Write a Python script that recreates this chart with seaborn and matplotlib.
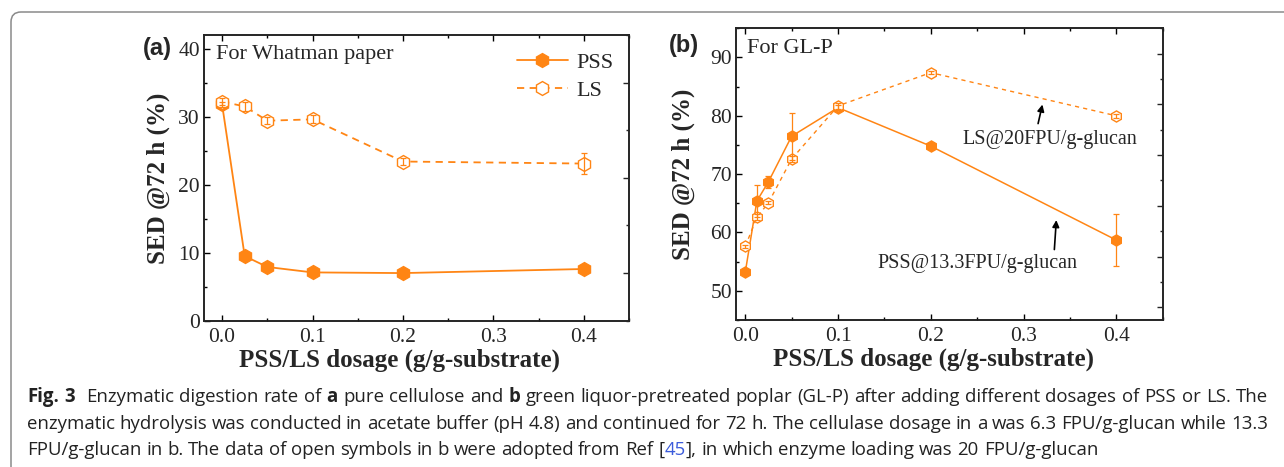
import matplotlib
matplotlib.use("Agg")
import numpy as np
import pandas as pd
import matplotlib.pyplot as plt
from matplotlib.patches import FancyBboxPatch
from matplotlib.transforms import IdentityTransform
from matplotlib.ticker import MultipleLocator, FormatStrFormatter, NullFormatter
import seaborn as sns

# (a) Whatman paper, 6.3 FPU/g-glucan
dose_a = [0.0, 0.025, 0.05, 0.1, 0.2, 0.4]
pss_a = [31.8, 9.5, 7.9, 7.1, 7.0, 7.6]
pss_a_err = [0.4, 0.3, 0.3, 0.3, 0.3, 0.3]
ls_a = [32.2, 31.5, 29.4, 29.6, 23.4, 23.1]
ls_a_err = [0.5, 0.6, 0.5, 0.6, 0.5, 1.5]

# (b) GL-P
dose_b = [0.0, 0.0125, 0.025, 0.05, 0.1, 0.2, 0.4]
pss_b = [53.2, 65.4, 68.7, 76.5, 81.4, 74.8, 58.7]
pss_b_err = [0.3, 2.8, 1.0, 4.0, 0.4, 0.3, 4.5]
ls_b = [57.6, 62.6, 65.1, 72.6, 81.7, 87.4, 80.0]
ls_b_err = [0.3, 0.5, 0.3, 0.5, 0.5, 0.3, 0.3]

ORANGE = "#FF8514"
W, H = 1284, 467

sns.set_style("ticks")
plt.rcParams["font.family"] = ["Liberation Serif", "DejaVu Serif"]
plt.rcParams["axes.linewidth"] = 1.1

fig = plt.figure(figsize=(W / 100, H / 100), dpi=100)
ax_a = fig.add_axes([204 / W, 1 - 320.7 / H, 425 / W, 285.7 / H])
ax_b = fig.add_axes([736 / W, 1 - 320 / H, 426.7 / W, 291.7 / H])


def draw_series(ax, x, y, err, filled, ms, lw, dashes=None, label=None):
    df = pd.DataFrame({"dose": x, "sed": y})
    kw = dict(color=ORANGE, marker="h", markersize=ms, lw=lw,
              markeredgecolor=ORANGE, markeredgewidth=1.0,
              markerfacecolor=ORANGE if filled else "white")
    if dashes is not None:
        kw["dashes"] = dashes
    sns.lineplot(data=df, x="dose", y="sed", ax=ax, sort=False,
                 label=label, legend=label is not None, **kw)
    ax.errorbar(x, y, yerr=err, fmt="none", ecolor=ORANGE, elinewidth=0.9,
                capsize=2.5, capthick=0.9, zorder=3)


draw_series(ax_a, dose_a, pss_a, pss_a_err, True, 10, 1.3, label="PSS")
draw_series(ax_a, dose_a, ls_a, ls_a_err, False, 10, 1.3, dashes=(4, 3), label="LS")
draw_series(ax_b, dose_b, pss_b, pss_b_err, True, 8, 1.1)
draw_series(ax_b, dose_b, ls_b, ls_b_err, False, 8, 1.0, dashes=(3, 3))

ax_a.set_xlim(-0.02, 0.45)
ax_a.set_ylim(0, 42)
ax_a.yaxis.set_major_locator(MultipleLocator(10))
ax_a.yaxis.set_minor_locator(MultipleLocator(5))
ax_b.set_xlim(-0.01, 0.45)
ax_b.set_ylim(45, 95)
ax_b.yaxis.set_major_locator(MultipleLocator(10))
ax_b.yaxis.set_minor_locator(MultipleLocator(5))

for ax in (ax_a, ax_b):
    ax.xaxis.set_major_locator(MultipleLocator(0.1))
    ax.xaxis.set_minor_locator(MultipleLocator(0.05))
    ax.xaxis.set_major_formatter(FormatStrFormatter("%.1f"))
    ax.tick_params(which="both", direction="in", top=True, right=False,
                   labelsize=15.5, color="black", width=1.0)
    ax.tick_params(which="major", length=4)
    ax.tick_params(which="minor", length=2.5)
    ax.tick_params(axis="x", pad=5)
    ax.tick_params(axis="y", pad=3)
    for sp in ax.spines.values():
        sp.set_visible(True)
        sp.set_color("black")
    ax.set_xlabel("PSS/LS dosage (g/g-substrate)", fontsize=18, fontweight="bold")
    ax.set_ylabel("SED @72 h (%)", fontsize=18, fontweight="bold")

ax_a.xaxis.set_label_coords(0.461, -0.096)
ax_a.yaxis.set_label_coords(-0.08, 0.5)
ax_b.xaxis.set_label_coords(0.464, -0.096)
ax_b.yaxis.set_label_coords(-0.096, 0.5)

# right-hand axis ticks (separate layer, own spacing)
for ax, lim in ((ax_a, (-1, 5)), (ax_b, (-0.5, 11))):
    tw = ax.twinx()
    tw.set_ylim(*lim)
    tw.yaxis.set_major_locator(MultipleLocator(2))
    tw.yaxis.set_minor_locator(MultipleLocator(1))
    tw.yaxis.set_major_formatter(NullFormatter())
    tw.tick_params(which="both", direction="in", right=True, width=1.0)
    tw.tick_params(which="major", length=4)
    tw.tick_params(which="minor", length=2.5)
    tw.grid(False)

ax_a.legend(frameon=False, loc="upper left", bbox_to_anchor=(0.736, 0.94),
            borderpad=0, borderaxespad=0, handlelength=2.3, handletextpad=0.4,
            labelspacing=0.35, fontsize=16)

ax_a.text(0.028, 0.93, "For Whatman paper", transform=ax_a.transAxes,
          fontsize=16, va="center", ha="left")
ax_b.text(0.0265, 0.931, "For GL-P", transform=ax_b.transAxes,
          fontsize=16, va="center", ha="left")

ax_b.text(0.234, 75.9, "LS@20FPU/g-glucan", fontsize=14.5, va="center", ha="left")
ax_b.annotate("", xy=(0.321, 82.4), xytext=(0.315, 78.2),
              arrowprops=dict(arrowstyle="-|>", color="black", lw=1.2, mutation_scale=10))
ax_b.text(0.142, 54.6, "PSS@13.3FPU/g-glucan", fontsize=14.5, va="center", ha="left")
ax_b.annotate("", xy=(0.3355, 62.6), xytext=(0.333, 56.6),
              arrowprops=dict(arrowstyle="-|>", color="black", lw=1.2, mutation_scale=10))

fig.text(157 / W, 1 - 48 / H, "(a)", family="Liberation Sans", fontsize=17,
         fontweight="bold", ha="center", va="center")
fig.text(684 / W, 1 - 45 / H, "(b)", family="Liberation Sans", fontsize=17,
         fontweight="bold", ha="center", va="center")

# figure frame
frame = FancyBboxPatch((11, -60), 1400, H - 12 + 60,
                       boxstyle="round,pad=0,rounding_size=10",
                       transform=IdentityTransform(), facecolor="none",
                       edgecolor="#8a8a8a", lw=1.1)
fig.add_artist(frame)

# caption
cap_fam = ["Open Sans", "DejaVu Sans"]
TXT = "#222222"
cap_lines = [
    [("Fig. 3", "bold", TXT), ("  Enzymatic digestion rate of ", "normal", TXT),
     ("a", "bold", TXT), (" pure cellulose and ", "normal", TXT),
     ("b", "bold", TXT),
     (" green liquor-pretreated poplar (GL-P) after adding different dosages of PSS or LS. The",
      "normal", TXT)],
    [("enzymatic hydrolysis was conducted in acetate buffer (pH 4.8) and continued for 72 h. "
      "The cellulase dosage in a was 6.3 FPU/g-glucan while 13.3", "normal", TXT)],
    [("FPU/g-glucan in b. The data of open symbols in b were adopted from Ref [", "normal", TXT),
     ("45", "normal", "#3b5bdb"),
     ("], in which enzyme loading was 20 FPU/g-glucan", "normal", TXT)],
]
cap_y = [397, 424, 450]
justify = [True, True, False]
CAP_X0, CAP_W = 27, 1241
renderer = fig.canvas.get_renderer()


def split_words(segs):
    out, gap = [], 0
    for s, wt, col in segs:
        for i, p in enumerate(s.split(" ")):
            if i > 0:
                gap += 1
            if p:
                out.append((p, wt, col, gap))
                gap = 0
    return out


def measure(word, size, wt):
    t = fig.text(0, 0, word, fontsize=size, family=cap_fam, fontweight=wt)
    w = t.get_window_extent(renderer=renderer).width
    t.remove()
    return w


base = 12.0
sp_base = measure("a a", base, "normal") - measure("aa", base, "normal")
words = [split_words(segs) for segs in cap_lines]
widths = [[measure(w, base, wt) for w, wt, _, _ in line] for line in words]
natural = [sum(ws) + sum(g for *_, g in line) * sp_base
           for ws, line in zip(widths, words)]
cap_size = base * CAP_W / max(natural)
k = cap_size / base

for line, ws, nat, yc, just in zip(words, widths, natural, cap_y, justify):
    n_gaps = sum(g for *_, g in line)
    sp = sp_base * k
    if just and n_gaps:
        sp += (CAP_W - nat * k) / n_gaps
    x = CAP_X0
    for (w, wt, col, gap), wd in zip(line, ws):
        x += gap * sp
        fig.text(x / W, 1 - yc / H, w, fontsize=cap_size, family=cap_fam,
                 fontweight=wt, color=col, ha="left", va="center")
        x += wd * k

fig.savefig("out.png", dpi=100)
